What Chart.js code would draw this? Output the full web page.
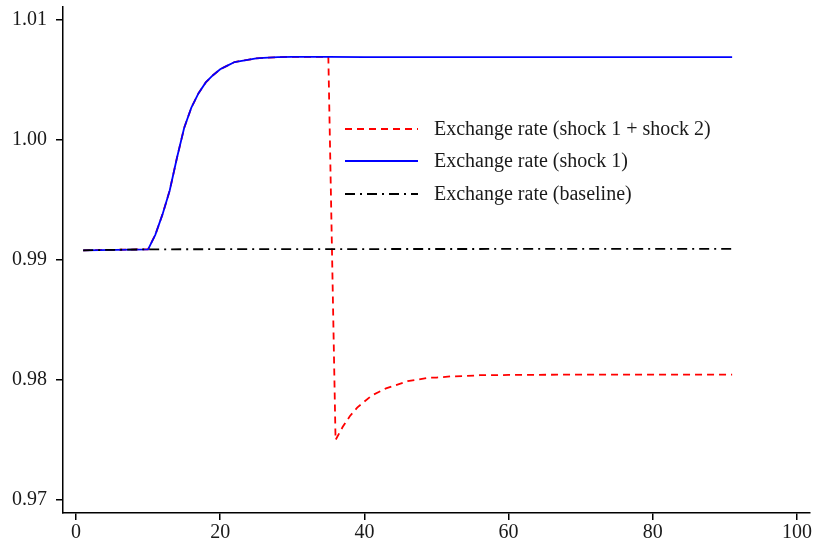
<!DOCTYPE html>
<html>
<head>
<meta charset="utf-8">
<script src="https://cdn.jsdelivr.net/npm/chart.js@4.4.1/dist/chart.umd.min.js"></script>
<style>
  body { margin: 0; background: #fff; }
  canvas { display: block; }
</style>
</head>
<body>
<canvas id="rateChart" width="814" height="547"></canvas>
<script>
// series
var baseX = [1, 10, 30, 60, 91];
var baseY = [0.99081, 0.99089, 0.99091, 0.99092, 0.99092];

var shock1X = [1, 10, 11, 12, 13, 14, 15, 16, 17, 18, 19, 20, 21, 22, 23, 24, 25, 26, 28, 30, 35, 40, 50, 60, 70, 80, 91];
var shock1Y = [0.99081, 0.99089, 0.9921, 0.9938, 0.9958, 0.9985, 1.0010, 1.0027, 1.0039, 1.0048, 1.0054, 1.0059, 1.0062, 1.0065, 1.0066, 1.0067, 1.0068, 1.00685, 1.0069, 1.00693, 1.00692, 1.0069, 1.0069, 1.0069, 1.0069, 1.0069, 1.0069];

var shock12X = [1, 10, 11, 12, 13, 14, 15, 16, 17, 18, 19, 20, 21, 22, 23, 24, 25, 26, 28, 30, 35, 36, 37, 38, 39, 40, 41, 42, 43, 44, 45, 46, 47, 48, 49, 50, 52, 54, 56, 58, 60, 70, 80, 91];
var shock12Y = [0.99081, 0.99089, 0.9921, 0.9938, 0.9958, 0.9985, 1.0010, 1.0027, 1.0039, 1.0048, 1.0054, 1.0059, 1.0062, 1.0065, 1.0066, 1.0067, 1.0068, 1.00685, 1.0069, 1.00693, 1.00692, 0.9750, 0.9761, 0.9770, 0.9777, 0.9782, 0.9787, 0.9790, 0.9793, 0.9795, 0.9797, 0.9799, 0.9800, 0.9801, 0.9802, 0.9802, 0.9803, 0.98033, 0.9804, 0.9804, 0.98042, 0.98045, 0.98045, 0.98045];

var seriesLabels = ["Exchange rate (shock 1 + shock 2)", "Exchange rate (shock 1)", "Exchange rate (baseline)"];

var xTicks = [0, 20, 40, 60, 80, 100];
var yTicks = [0.97, 0.98, 0.99, 1.00, 1.01];
var yTickLabels = ["0.97", "0.98", "0.99", "1.00", "1.01"];

function pts(xs, ys) {
  var out = [];
  for (var i = 0; i < xs.length; i++) out.push({ x: xs[i], y: ys[i] });
  return out;
}

var serif = "'Liberation Serif', 'DejaVu Serif', serif";
var ink = "#1a1a1a";

var styles = [
  { color: "#ff0000", dash: [7, 5], width: 1.8 },
  { color: "#0000ff", dash: [], width: 1.8 },
  { color: "#000000", dash: [10, 5, 2, 5], width: 1.8 }
];

// legend drawn inside the plot, like the original
var insideLegend = {
  id: "insideLegend",
  afterDatasetsDraw: function(chart) {
    var ctx = chart.ctx;
    var x0 = 345, x1 = 418, tx = 434;
    var rows = [129, 161, 194];
    ctx.save();
    ctx.font = "20px " + serif;
    ctx.textBaseline = "middle";
    for (var i = 0; i < seriesLabels.length; i++) {
      ctx.beginPath();
      ctx.strokeStyle = styles[i].color;
      ctx.lineWidth = styles[i].width;
      ctx.setLineDash(styles[i].dash);
      ctx.moveTo(x0, rows[i]);
      ctx.lineTo(x1, rows[i]);
      ctx.stroke();
      ctx.setLineDash([]);
      ctx.fillStyle = ink;
      ctx.fillText(seriesLabels[i], tx, rows[i] + 1);
    }
    ctx.restore();
  }
};

var ctx = document.getElementById("rateChart").getContext("2d");
new Chart(ctx, {
  type: "line",
  data: {
    datasets: [
      // first dataset is drawn on top, so baseline first
      { label: seriesLabels[2], data: pts(baseX, baseY), borderColor: styles[2].color, borderDash: styles[2].dash, borderWidth: styles[2].width },
      { label: seriesLabels[1], data: pts(shock1X, shock1Y), borderColor: styles[1].color, borderDash: styles[1].dash, borderWidth: styles[1].width },
      { label: seriesLabels[0], data: pts(shock12X, shock12Y), borderColor: styles[0].color, borderDash: styles[0].dash, borderWidth: styles[0].width }
    ]
  },
  options: {
    responsive: false,
    animation: false,
    devicePixelRatio: 1,
    layout: { padding: { top: 7, right: 4, left: 0, bottom: 0 } },
    elements: {
      point: { radius: 0 },
      line: { tension: 0, fill: false }
    },
    plugins: {
      legend: { display: false },
      tooltip: { enabled: false }
    },
    scales: {
      x: {
        type: "linear",
        min: -1.8,
        max: 101.8,
        afterBuildTicks: function(scale) {
          scale.ticks = xTicks.map(function(v) { return { value: v }; });
        },
        afterFit: function(scale) {
          scale.height = 34;
          scale.paddingLeft = 0;
          scale.paddingRight = 0;
        },
        border: { display: true, color: "#000", width: 1.5 },
        grid: { drawOnChartArea: false, drawTicks: true, tickLength: 7, color: "#000", lineWidth: 1.5 },
        ticks: { color: ink, font: { family: serif, size: 20 }, padding: 1, maxRotation: 0 }
      },
      y: {
        type: "linear",
        min: 0.968917,
        max: 1.011083,
        afterBuildTicks: function(scale) {
          scale.ticks = yTicks.map(function(v) { return { value: v }; });
        },
        afterFit: function(scale) {
          scale.width = 63;
          scale.paddingTop = 0;
          scale.paddingBottom = 0;
        },
        border: { display: true, color: "#000", width: 1.5 },
        grid: { drawOnChartArea: false, drawTicks: true, tickLength: 7, color: "#000", lineWidth: 1.5 },
        ticks: {
          color: ink,
          font: { family: serif, size: 20 },
          padding: 9,
          callback: function(value, index) { return yTickLabels[index]; }
        }
      }
    }
  },
  plugins: [insideLegend]
});
</script>
</body>
</html>
